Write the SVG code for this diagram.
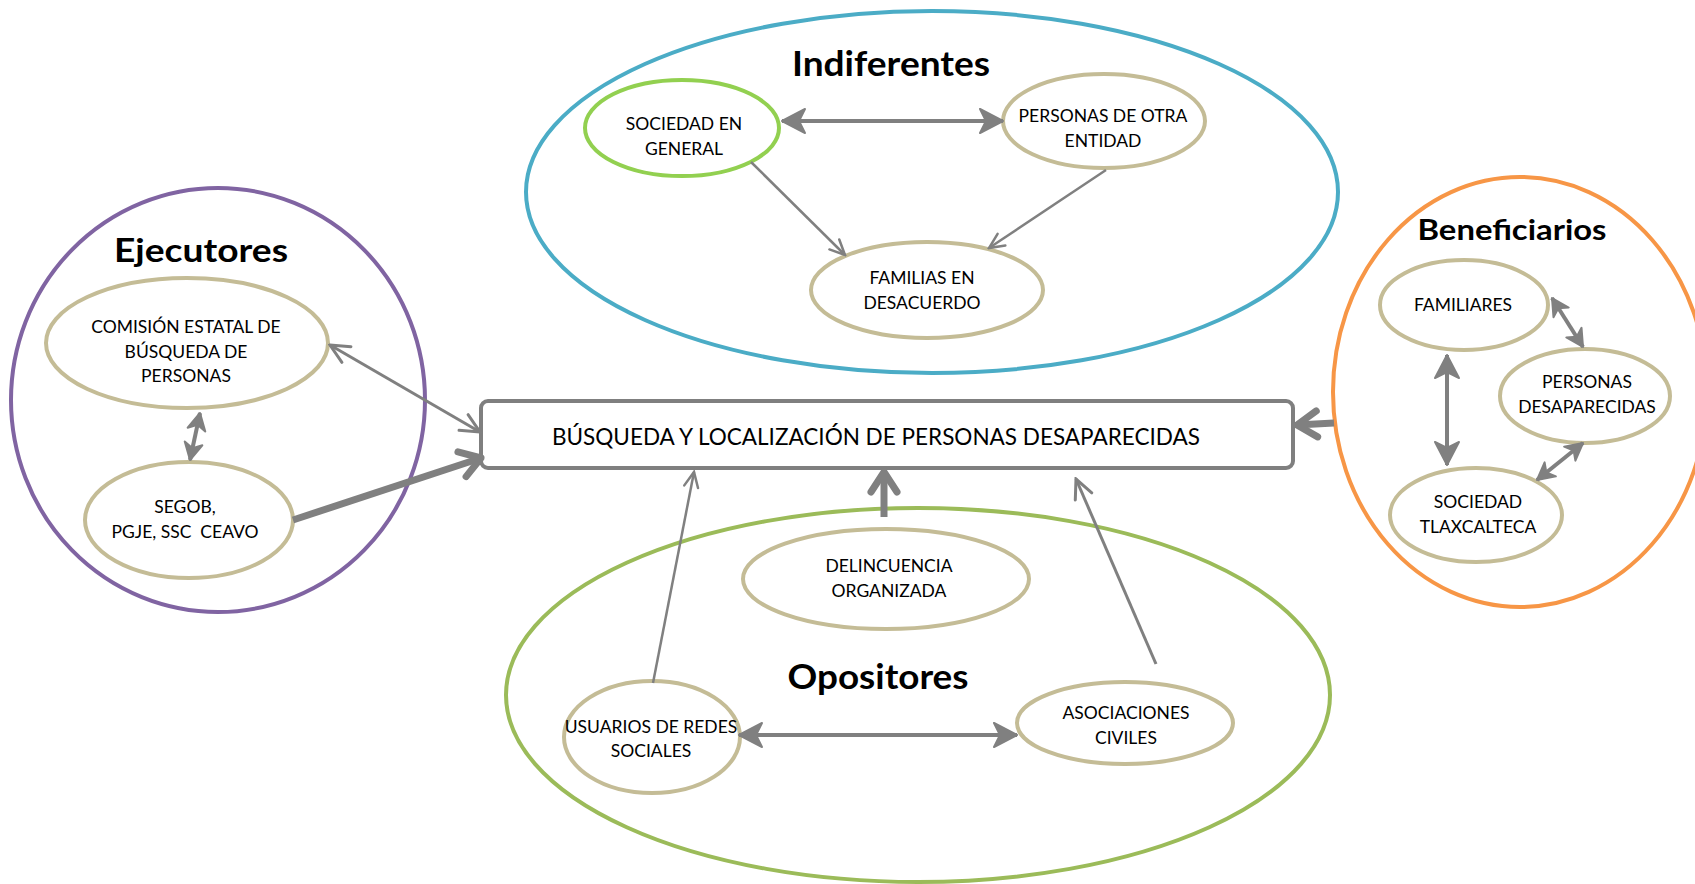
<svg xmlns="http://www.w3.org/2000/svg" width="1695" height="884" viewBox="0 0 1695 884">
<style>
.grp{fill:none;stroke-width:4}
.node{fill:#fff;stroke:#C4BC96;stroke-width:4}
.t{font-family:Lato,"Liberation Sans",sans-serif;font-size:17.5px;fill:#000;text-anchor:middle}
.title{font-family:Lato,"Liberation Sans",sans-serif;font-weight:bold;fill:#000;text-anchor:middle}
.c{fill:none;stroke:#808080}
</style>
<defs>
<marker id="thin" markerUnits="userSpaceOnUse" viewBox="0 0 20 20" refX="18" refY="10" markerWidth="20" markerHeight="20" orient="auto-start-reverse">
<path d="M3,3 L18,10 L3,17" fill="none" stroke="#808080" stroke-width="2.5" stroke-linecap="round"/>
</marker>
<marker id="mid" markerUnits="userSpaceOnUse" viewBox="0 0 24 24" refX="22" refY="12" markerWidth="24" markerHeight="24" orient="auto-start-reverse">
<path d="M3,3 L22,12 L3,21" fill="none" stroke="#808080" stroke-width="3" stroke-linecap="round"/>
</marker>
<marker id="dbl" markerUnits="userSpaceOnUse" viewBox="0 0 28 30" refX="26" refY="15" markerWidth="28" markerHeight="30" orient="auto-start-reverse">
<path d="M3,3 L26,15 L3,27 L9,15 Z" fill="#808080" stroke="#808080" stroke-width="2" stroke-linejoin="round"/>
</marker>
<marker id="dbls" markerUnits="userSpaceOnUse" viewBox="0 0 20 22" refX="19" refY="11" markerWidth="20" markerHeight="22" orient="auto-start-reverse">
<path d="M2,2 L19,11 L2,20 L7,11 Z" fill="#808080" stroke="#808080" stroke-width="2" stroke-linejoin="round"/>
</marker>
<marker id="thick" markerUnits="userSpaceOnUse" viewBox="0 0 30 34" refX="26" refY="17" markerWidth="30" markerHeight="34" orient="auto">
<path d="M6,4 L26,17 L6,30" fill="none" stroke="#808080" stroke-width="7" stroke-linecap="round" stroke-linejoin="round"/>
</marker>
</defs>

<g id="grupo-ejecutores">
<ellipse class="grp" cx="218" cy="400" rx="207" ry="212" stroke="#8064A2"/>
<text class="title" x="201" y="262" font-size="32" textLength="174" lengthAdjust="spacingAndGlyphs">Ejecutores</text>
</g>
<g id="grupo-indiferentes">
<ellipse class="grp" cx="932" cy="192" rx="406" ry="181" stroke="#4BACC6"/>
<text class="title" x="891" y="76" font-size="35" textLength="198" lengthAdjust="spacingAndGlyphs">Indiferentes</text>
</g>
<g id="grupo-beneficiarios">
<ellipse class="grp" cx="1520" cy="392" rx="187" ry="215" stroke="#F79646"/>
<text class="title" x="1512" y="240" font-size="28" textLength="189" lengthAdjust="spacingAndGlyphs">Beneficiarios</text>
</g>
<g id="grupo-opositores">
<ellipse class="grp" cx="918" cy="695" rx="412" ry="187" stroke="#9BBB59"/>
<text class="title" x="878" y="689" font-size="35" textLength="181" lengthAdjust="spacingAndGlyphs">Opositores</text>
</g>

<g id="comision">
<ellipse class="node" cx="187" cy="343" rx="141" ry="65"/>
<text class="t" x="186" y="333">COMISIÓN ESTATAL DE</text>
<text class="t" x="186" y="357.5">BÚSQUEDA DE</text>
<text class="t" x="186" y="382">PERSONAS</text>
</g>
<g id="segob">
<ellipse class="node" cx="189" cy="520" rx="104" ry="58"/>
<text class="t" x="185" y="513">SEGOB,</text>
<text class="t" x="185" y="538" xml:space="preserve">PGJE, SSC  CEAVO</text>
</g>
<g id="sociedad-general">
<ellipse class="node" cx="682" cy="128" rx="97" ry="48" style="stroke:#92D050"/>
<text class="t" x="684" y="130">SOCIEDAD EN</text>
<text class="t" x="684" y="155">GENERAL</text>
</g>
<g id="personas-otra-entidad">
<ellipse class="node" cx="1104" cy="121" rx="101" ry="47"/>
<text class="t" x="1103" y="122">PERSONAS DE OTRA</text>
<text class="t" x="1103" y="147">ENTIDAD</text>
</g>
<g id="familias-desacuerdo">
<ellipse class="node" cx="927" cy="290" rx="116" ry="48"/>
<text class="t" x="922" y="284">FAMILIAS EN</text>
<text class="t" x="922" y="309">DESACUERDO</text>
</g>
<g id="familiares">
<ellipse class="node" cx="1464" cy="305" rx="84" ry="45"/>
<text class="t" x="1463" y="311">FAMILIARES</text>
</g>
<g id="personas-desaparecidas">
<ellipse class="node" cx="1585" cy="396" rx="85" ry="47"/>
<text class="t" x="1587" y="388">PERSONAS</text>
<text class="t" x="1587" y="413">DESAPARECIDAS</text>
</g>
<g id="sociedad-tlaxcalteca">
<ellipse class="node" cx="1476" cy="515" rx="86" ry="47"/>
<text class="t" x="1478" y="508">SOCIEDAD</text>
<text class="t" x="1478" y="533">TLAXCALTECA</text>
</g>
<g id="delincuencia">
<ellipse class="node" cx="886" cy="579" rx="143" ry="50"/>
<text class="t" x="889" y="572">DELINCUENCIA</text>
<text class="t" x="889" y="597">ORGANIZADA</text>
</g>
<g id="usuarios">
<ellipse class="node" cx="652" cy="737" rx="88" ry="56"/>
<text class="t" x="651" y="733">USUARIOS DE REDES</text>
<text class="t" x="651" y="757">SOCIALES</text>
</g>
<g id="asociaciones">
<ellipse class="node" cx="1125" cy="723" rx="108" ry="41"/>
<text class="t" x="1126" y="719">ASOCIACIONES</text>
<text class="t" x="1126" y="744">CIVILES</text>
</g>
<g id="busqueda">
<rect x="481" y="401" width="812" height="67" rx="7" fill="#fff" stroke="#7F7F7F" stroke-width="4"/>
<text class="t" x="876" y="445" style="font-size:23px" textLength="648" lengthAdjust="spacingAndGlyphs">BÚSQUEDA Y LOCALIZACIÓN DE PERSONAS DESAPARECIDAS</text>
</g>

<g id="conectores">
<line class="c" x1="330" y1="345" x2="480" y2="432" stroke-width="3" marker-start="url(#mid)" marker-end="url(#mid)"/>
<line class="c" x1="200" y1="413" x2="190" y2="460" stroke-width="4" marker-start="url(#dbls)" marker-end="url(#dbls)"/>
<line class="c" x1="293" y1="520" x2="481" y2="458" stroke-width="7" marker-end="url(#thick)"/>
<line class="c" x1="782" y1="121" x2="1003" y2="121" stroke-width="4" marker-start="url(#dbl)" marker-end="url(#dbl)"/>
<line class="c" x1="751" y1="162" x2="845" y2="255" stroke-width="2.5" marker-end="url(#thin)"/>
<line class="c" x1="1106" y1="170" x2="989" y2="248" stroke-width="2.5" marker-end="url(#thin)"/>
<line class="c" x1="1334" y1="423" x2="1297" y2="425" stroke-width="7" marker-end="url(#thick)"/>
<line class="c" x1="1552" y1="298" x2="1583" y2="347" stroke-width="4" marker-start="url(#dbls)" marker-end="url(#dbls)"/>
<line class="c" x1="1447" y1="355" x2="1447" y2="465" stroke-width="4" marker-start="url(#dbl)" marker-end="url(#dbl)"/>
<line class="c" x1="1583" y1="443" x2="1537" y2="480" stroke-width="4" marker-start="url(#dbls)" marker-end="url(#dbls)"/>
<line class="c" x1="739" y1="735" x2="1017" y2="735" stroke-width="4" marker-start="url(#dbl)" marker-end="url(#dbl)"/>
<line class="c" x1="653" y1="683" x2="694" y2="472" stroke-width="2.5" marker-end="url(#thin)"/>
<line class="c" x1="884" y1="517" x2="884" y2="472" stroke-width="7" marker-end="url(#thick)"/>
<line class="c" x1="1156" y1="664" x2="1076" y2="479" stroke-width="3" marker-end="url(#mid)"/>
</g>
</svg>
